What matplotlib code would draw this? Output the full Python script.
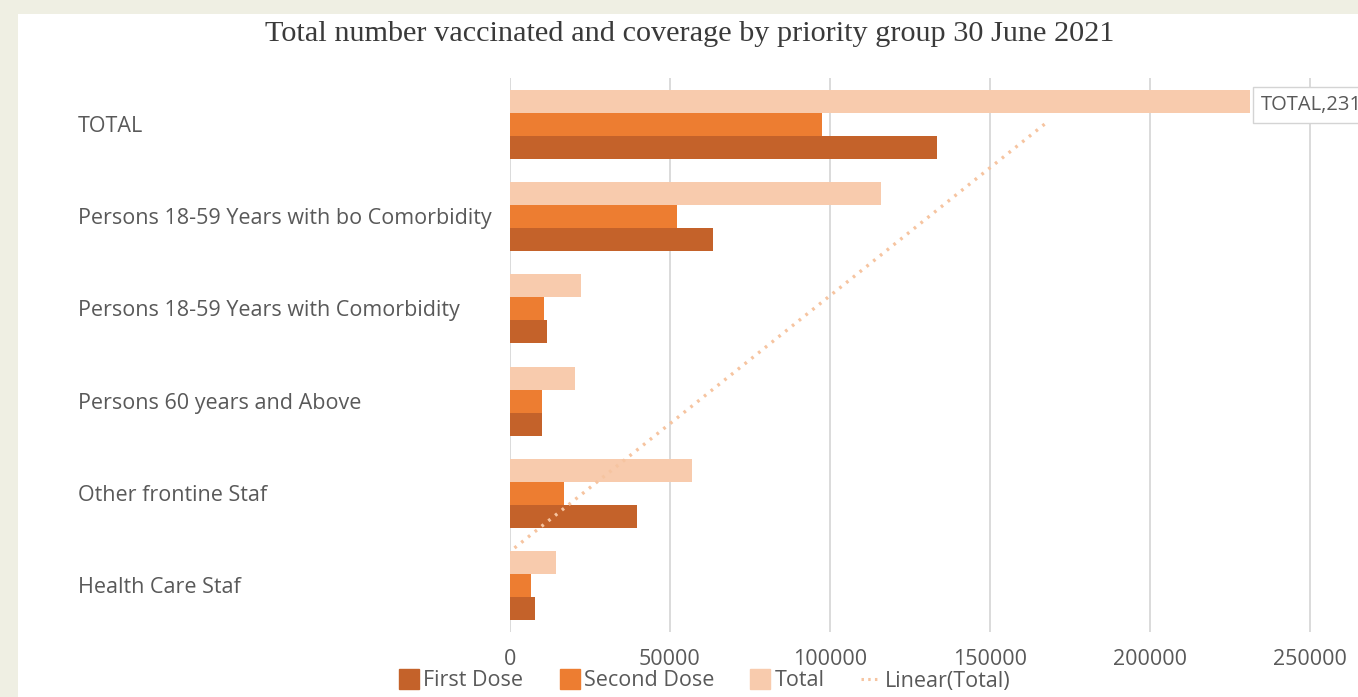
import numpy as np
import matplotlib
matplotlib.use("Agg")
import matplotlib.pyplot as plt
from matplotlib.lines import Line2D
from matplotlib.patches import Rectangle
import matplotlib.transforms as mtransforms

# ---- data (bottom to top, as drawn) ----
categories = ["Health Care Staf", "Other frontine Staf", "Persons 60 years and Above",
              "Persons 18-59 Years with Comorbidity",
              "Persons 18-59 Years with bo Comorbidity", "TOTAL"]
first_dose = [7800, 39700, 10000, 11600, 63400, 133400]
second_dose = [6600, 16900, 10000, 10600, 52200, 97500]
total = [14400, 56900, 20300, 22200, 115900, 231250]
x_ticks = [0, 50000, 100000, 150000, 200000, 250000]
title = "Total number vaccinated and coverage by priority group 30 June 2021"

c_first = "#c4622a"
c_second = "#ed7d31"
c_total = "#f8cbad"
c_trend = "#f6c4a0"
txt = "#595959"
fs = 15.5

W, H = 1358, 697
fig = plt.figure(figsize=(W / 100, H / 100), dpi=100)
fig.patch.set_facecolor("#efefe3")
fig.add_artist(Rectangle((18 / W, 0), 1.0, 1 - 14 / H, transform=fig.transFigure,
                         facecolor="white", edgecolor="none", zorder=0))

# axes: x=0 at px 510, 50000 per 160 px; top 78 px, bottom 632 px
x0 = 510
xmax = 280000
ax_w = xmax / 50000 * 160
ax = fig.add_axes([x0 / W, (H - 632) / H, ax_w / W, (632 - 78) / H])
ax.set_facecolor("none")

y = np.arange(len(categories))
bh = 0.25
ax.barh(y + bh, total, height=bh, color=c_total, zorder=3)
ax.barh(y, second_dose, height=bh, color=c_second, zorder=3)
ax.barh(y - bh, first_dose, height=bh, color=c_first, zorder=3)

# linear trendline of Total (Excel-like: x = category index 1..n)
idx = np.arange(1, len(total) + 1)
slope, inter = np.polyfit(idx, total, 1)
tx = np.array([idx[0], idx[-1]])
ty = slope * tx + inter
ax.plot(ty, tx - 1, color=c_trend, lw=2.4, linestyle=(0, (0.8, 1.8)), zorder=4)

ax.set_xlim(0, xmax)
ax.set_ylim(-0.5, len(categories) - 0.5)
ax.set_xticks(x_ticks)
ax.set_xticklabels([str(v) for v in x_ticks], fontsize=fs, color=txt, family="Open Sans")
ax.tick_params(axis="x", length=0, pad=12)
ax.set_yticks([])
ax.grid(axis="x", color="#dadada", lw=1.4, zorder=0)
for s in ax.spines.values():
    s.set_visible(False)

trans = mtransforms.blended_transform_factory(fig.transFigure, ax.transData)
for yi, cat in zip(y, categories):
    fig.text(78 / W, yi - 0.02, cat, transform=trans, ha="left", va="center",
             fontsize=fs, color=txt, family="Open Sans")

# data label (cut at the right edge, as in the reference)
ax.text(total[-1] + 3500, y[-1] + bh - 0.04, f"TOTAL,{total[-1]}", ha="left", va="center",
        fontsize=fs - 1, color=txt, family="Open Sans", zorder=6, clip_on=False,
        bbox=dict(boxstyle="square,pad=0.4", fc="white", ec="#d4d4d4", lw=1))

fig.text(690 / W, 1 - 34 / H, title, ha="center", va="center", fontsize=21.8,
         color="#3a3a3a", family="Liberation Serif")

handles = [
    Line2D([], [], marker="s", ls="", ms=15, color=c_first),
    Line2D([], [], marker="s", ls="", ms=15, color=c_second),
    Line2D([], [], marker="s", ls="", ms=15, color=c_total),
    Line2D([], [], color=c_trend, lw=2.2, linestyle=(0, (0.8, 1.4))),
]
labels = ["First Dose", "Second Dose", "Total", "Linear(Total)"]
leg = fig.legend(handles, labels, loc="center", bbox_to_anchor=(705 / W, 1 - 681 / H),
                 ncol=4, frameon=False, prop={"family": "Open Sans", "size": fs},
                 handlelength=0.9, handletextpad=0.2, columnspacing=1.7, borderaxespad=0,
                 borderpad=0)
for t in leg.get_texts():
    t.set_color(txt)

fig.savefig("out.png", dpi=100, facecolor=fig.get_facecolor())
